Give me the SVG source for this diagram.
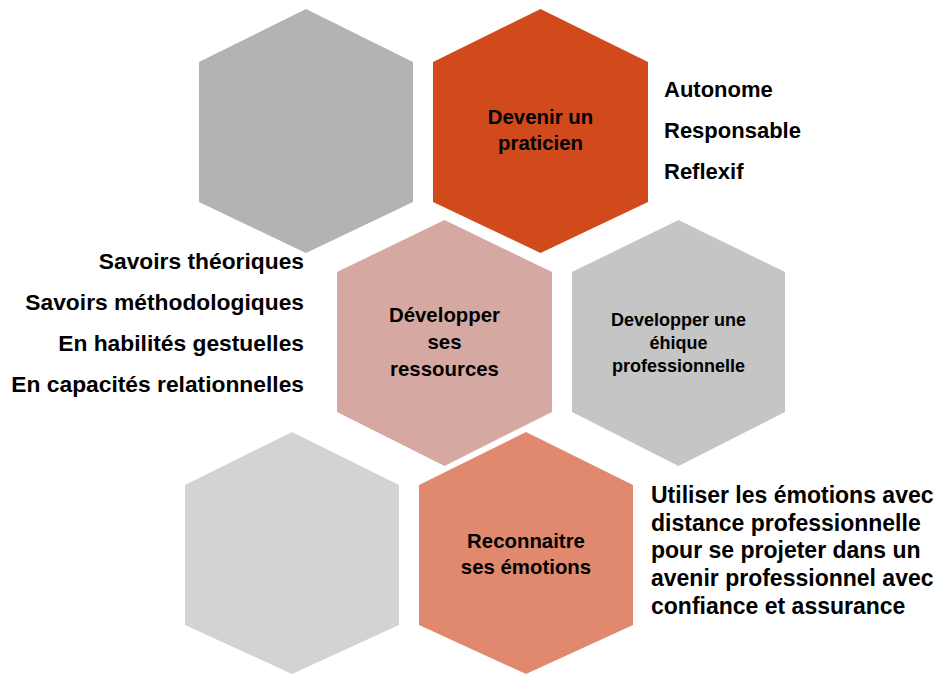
<svg xmlns="http://www.w3.org/2000/svg" width="937" height="675" viewBox="0 0 937 675">
<style>
text{font-family:"Liberation Sans",Arial,sans-serif;font-weight:bold;fill:#000}
.c{text-anchor:middle}
.r{text-anchor:end}
.side{font-size:22px}
.left{font-size:22.8px}
.br{font-size:23px}
.lab{font-size:20.4px}
.sm{font-size:18px}
</style>
<rect width="937" height="675" fill="#fff"/>
<g id="hex-grey-top">
<polygon points="306,9 413,62 413,202 306,253 199,202 199,62" fill="#B3B3B3"/>
</g>
<g id="hex-praticien">
<polygon points="540.5,9 648,62 648,202 540.5,253 433,202 433,62" fill="#D14A1B"/>
<text class="c lab" x="540.5" y="124">Devenir un</text>
<text class="c lab" x="540.5" y="150">praticien</text>
</g>
<g id="hex-ressources">
<polygon points="444.5,220 552,272 552,412 444.5,466 337,412 337,272" fill="#D5A9A2"/>
<text class="c lab" x="444.5" y="322">Développer</text>
<text class="c lab" x="444.5" y="349">ses</text>
<text class="c lab" x="444.5" y="376">ressources</text>
</g>
<g id="hex-ethique">
<polygon points="678.5,220 785,272 785,412 678.5,466 572,412 572,272" fill="#C5C5C5"/>
<text class="c sm" x="678.5" y="326">Developper une</text>
<text class="c sm" x="678.5" y="349">éhique</text>
<text class="c sm" x="678.5" y="372">professionnelle</text>
</g>
<g id="hex-grey-bottom">
<polygon points="292,432 399,485 399,625 292,674 185,625 185,485" fill="#D3D3D3"/>
</g>
<g id="hex-emotions">
<polygon points="526,432 633,485 633,625 526,674 419,625 419,485" fill="#E0896E"/>
<text class="c lab" x="526" y="548">Reconnaitre</text>
<text class="c lab" x="526" y="574">ses émotions</text>
</g>
<g id="txt-praticien">
<text class="side" x="664" y="97">Autonome</text>
<text class="side" x="664" y="138">Responsable</text>
<text class="side" x="664" y="179">Reflexif</text>
</g>
<g id="txt-ressources">
<text class="left r" x="304" y="269">Savoirs théoriques</text>
<text class="left r" x="304" y="310">Savoirs méthodologiques</text>
<text class="left r" x="304" y="351">En habilités gestuelles</text>
<text class="left r" x="304" y="392">En capacités relationnelles</text>
</g>
<g id="txt-emotions">
<text class="br" x="651" y="503">Utiliser les émotions avec</text>
<text class="br" x="651" y="531">distance professionnelle</text>
<text class="br" x="651" y="558">pour se projeter dans un</text>
<text class="br" x="651" y="586">avenir professionnel avec</text>
<text class="br" x="651" y="614">confiance et assurance</text>
</g>
<g id="connectors"></g>
</svg>
